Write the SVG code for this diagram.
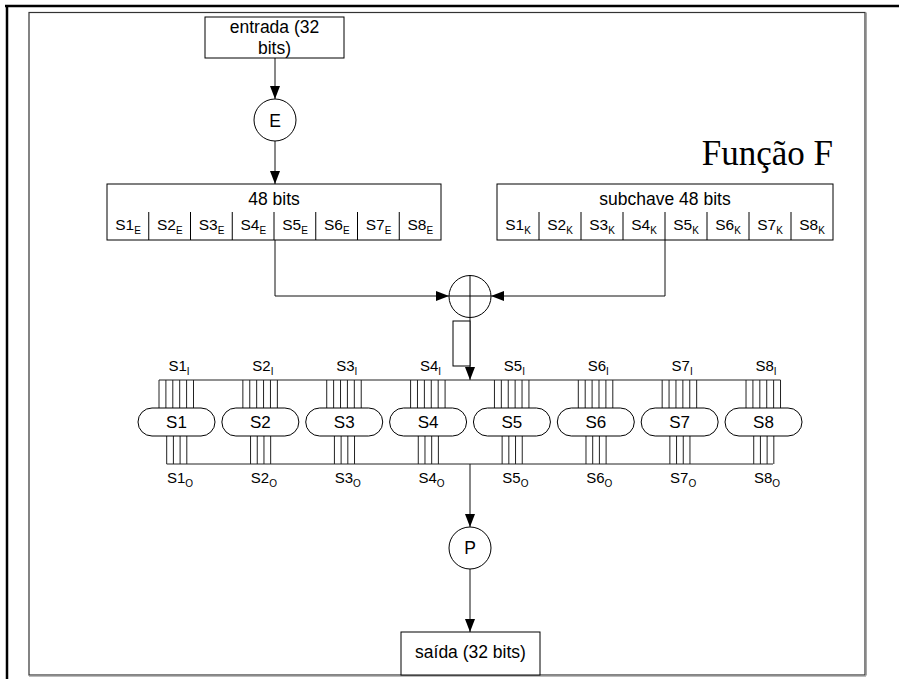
<svg xmlns="http://www.w3.org/2000/svg" width="899" height="679" viewBox="0 0 899 679">
  <defs>
    <marker id="arrow" markerUnits="userSpaceOnUse" markerWidth="13" markerHeight="10" refX="13" refY="5" orient="auto">
      <path d="M0,0 L13,5 L0,10 z" fill="#000"/>
    </marker>
    <style>
      .box { fill: #fff; stroke: #000; stroke-width: 1; }
      .ln { fill: none; stroke: #000; stroke-width: 1; }
      .wire { fill: none; stroke: #222; stroke-width: 1; }
      .conn { fill: none; stroke: #111; stroke-width: 1; }
      .t { font-family: "Liberation Sans", Arial, sans-serif; fill: #000; }
      .big { font-size: 17.5px; text-anchor: middle; }
      .cell { font-size: 15.5px; text-anchor: middle; }
      .sbox { font-size: 17px; text-anchor: middle; }
      .lbl { font-size: 15px; text-anchor: middle; }
      .sub { font-size: 10px; }
      .title { font-family: "Liberation Serif", "Times New Roman", serif; font-size: 35px; text-anchor: end; fill: #000; }
    </style>
  </defs>

  <!-- page frame -->
  <g id="frame">
    <line x1="5" y1="6" x2="899" y2="6" stroke="#000" stroke-width="2.5"/>
    <line x1="7" y1="5" x2="7" y2="679" stroke="#000" stroke-width="2.5"/>
    <rect x="29" y="12.5" width="836" height="662.5" fill="none" stroke="#333" stroke-width="1.2"/>
    <line x1="866" y1="12.5" x2="866" y2="675.5" stroke="#888" stroke-width="1.5"/>
    <line x1="29" y1="676.3" x2="866" y2="676.3" stroke="#aaa" stroke-width="1"/>
  </g>

  <text class="title" x="833" y="165">Função F</text>

  <!-- connectors -->
  <g id="connectors">
    <line class="conn" x1="275" y1="58" x2="275" y2="99" marker-end="url(#arrow)"/>
    <line class="conn" x1="275" y1="141" x2="275" y2="184" marker-end="url(#arrow)"/>
    <polyline class="conn" points="275,240 275,296 449,296" marker-end="url(#arrow)"/>
    <polyline class="conn" points="665,240 665,296 491,296" marker-end="url(#arrow)"/>
    <line class="conn" x1="470" y1="317.5" x2="470" y2="380" marker-end="url(#arrow)"/>
    <line class="conn" x1="470" y1="464" x2="470" y2="527" marker-end="url(#arrow)"/>
    <line class="conn" x1="470" y1="569" x2="470" y2="632" marker-end="url(#arrow)"/>
  </g>

  <!-- input block -->
  <g id="entrada">
    <rect class="box" x="205" y="17" width="139" height="41"/>
    <text class="t big" x="274.5" y="32.5">entrada (32</text>
    <text class="t big" x="274.5" y="53.5">bits)</text>
  </g>

  <!-- expansion -->
  <g id="expansao">
    <circle class="box" cx="275" cy="120" r="21"/>
    <text class="t big" x="275" y="127">E</text>
  </g>

  <!-- expanded half block, 48 bits -->
  <g id="bloco48">
    <rect class="box" x="107" y="184" width="334" height="56"/>
    <path class="ln" d="M148.75,212V240 M190.5,212V240 M232.25,212V240 M274,212V240 M315.75,212V240 M357.5,212V240 M399.25,212V240"/>
    <text class="t big" x="274" y="205">48 bits</text>
    <text class="t cell" x="128" y="230">S1<tspan class="sub" dy="4">E</tspan></text>
    <text class="t cell" x="169.75" y="230">S2<tspan class="sub" dy="4">E</tspan></text>
    <text class="t cell" x="211.5" y="230">S3<tspan class="sub" dy="4">E</tspan></text>
    <text class="t cell" x="253.25" y="230">S4<tspan class="sub" dy="4">E</tspan></text>
    <text class="t cell" x="295" y="230">S5<tspan class="sub" dy="4">E</tspan></text>
    <text class="t cell" x="336.75" y="230">S6<tspan class="sub" dy="4">E</tspan></text>
    <text class="t cell" x="378.5" y="230">S7<tspan class="sub" dy="4">E</tspan></text>
    <text class="t cell" x="420.25" y="230">S8<tspan class="sub" dy="4">E</tspan></text>
  </g>

  <!-- round subkey, 48 bits -->
  <g id="subchave">
    <rect class="box" x="497" y="184" width="336" height="56"/>
    <path class="ln" d="M539,212V240 M581,212V240 M623,212V240 M665,212V240 M707,212V240 M749,212V240 M791,212V240"/>
    <text class="t big" x="665" y="205">subchave 48 bits</text>
    <text class="t cell" x="518" y="230">S1<tspan class="sub" dy="4">K</tspan></text>
    <text class="t cell" x="560" y="230">S2<tspan class="sub" dy="4">K</tspan></text>
    <text class="t cell" x="602" y="230">S3<tspan class="sub" dy="4">K</tspan></text>
    <text class="t cell" x="644" y="230">S4<tspan class="sub" dy="4">K</tspan></text>
    <text class="t cell" x="686" y="230">S5<tspan class="sub" dy="4">K</tspan></text>
    <text class="t cell" x="728" y="230">S6<tspan class="sub" dy="4">K</tspan></text>
    <text class="t cell" x="770" y="230">S7<tspan class="sub" dy="4">K</tspan></text>
    <text class="t cell" x="812" y="230">S8<tspan class="sub" dy="4">K</tspan></text>
  </g>

  <!-- XOR -->
  <g id="xor">
    <circle class="box" cx="470" cy="296.5" r="21"/>
    <line class="ln" x1="449" y1="296" x2="491" y2="296"/>
    <line class="ln" x1="470" y1="275.5" x2="470" y2="317.5"/>
  </g>

  <g id="registro">
    <rect class="box" x="453" y="321" width="17" height="45"/>
  </g>

  <!-- S-box buses -->
  <g id="barramentos">
    <line class="wire" x1="159" y1="380" x2="780.5" y2="380"/>
    <line class="wire" x1="166.7" y1="464" x2="773" y2="464"/>
  </g>

  <!-- substitution boxes: 6 input wires, 4 output wires each -->
  <g id="S1" transform="translate(138,0)">
    <path class="wire" d="M21,380V408 M27.9,380V408 M34.8,380V408 M41.7,380V408 M48.6,380V408 M55.5,380V408 M28.7,436V464 M35.4,436V464 M42.1,436V464 M48.8,436V464"/>
    <rect class="box" x="0" y="408" width="77" height="28" rx="14" ry="14"/>
    <text class="t sbox" x="38.5" y="428">S1</text>
    <text class="t lbl" x="41" y="371">S1<tspan class="sub" dy="4">I</tspan></text>
    <text class="t lbl" x="42" y="483">S1<tspan class="sub" dy="4">O</tspan></text>
  </g>
  <g id="S2" transform="translate(221.86,0)">
    <path class="wire" d="M21,380V408 M27.9,380V408 M34.8,380V408 M41.7,380V408 M48.6,380V408 M55.5,380V408 M28.7,436V464 M35.4,436V464 M42.1,436V464 M48.8,436V464"/>
    <rect class="box" x="0" y="408" width="77" height="28" rx="14" ry="14"/>
    <text class="t sbox" x="38.5" y="428">S2</text>
    <text class="t lbl" x="41" y="371">S2<tspan class="sub" dy="4">I</tspan></text>
    <text class="t lbl" x="42" y="483">S2<tspan class="sub" dy="4">O</tspan></text>
  </g>
  <g id="S3" transform="translate(305.72,0)">
    <path class="wire" d="M21,380V408 M27.9,380V408 M34.8,380V408 M41.7,380V408 M48.6,380V408 M55.5,380V408 M28.7,436V464 M35.4,436V464 M42.1,436V464 M48.8,436V464"/>
    <rect class="box" x="0" y="408" width="77" height="28" rx="14" ry="14"/>
    <text class="t sbox" x="38.5" y="428">S3</text>
    <text class="t lbl" x="41" y="371">S3<tspan class="sub" dy="4">I</tspan></text>
    <text class="t lbl" x="42" y="483">S3<tspan class="sub" dy="4">O</tspan></text>
  </g>
  <g id="S4" transform="translate(389.58,0)">
    <path class="wire" d="M21,380V408 M27.9,380V408 M34.8,380V408 M41.7,380V408 M48.6,380V408 M55.5,380V408 M28.7,436V464 M35.4,436V464 M42.1,436V464 M48.8,436V464"/>
    <rect class="box" x="0" y="408" width="77" height="28" rx="14" ry="14"/>
    <text class="t sbox" x="38.5" y="428">S4</text>
    <text class="t lbl" x="41" y="371">S4<tspan class="sub" dy="4">I</tspan></text>
    <text class="t lbl" x="42" y="483">S4<tspan class="sub" dy="4">O</tspan></text>
  </g>
  <g id="S5" transform="translate(473.44,0)">
    <path class="wire" d="M21,380V408 M27.9,380V408 M34.8,380V408 M41.7,380V408 M48.6,380V408 M55.5,380V408 M28.7,436V464 M35.4,436V464 M42.1,436V464 M48.8,436V464"/>
    <rect class="box" x="0" y="408" width="77" height="28" rx="14" ry="14"/>
    <text class="t sbox" x="38.5" y="428">S5</text>
    <text class="t lbl" x="41" y="371">S5<tspan class="sub" dy="4">I</tspan></text>
    <text class="t lbl" x="42" y="483">S5<tspan class="sub" dy="4">O</tspan></text>
  </g>
  <g id="S6" transform="translate(557.3,0)">
    <path class="wire" d="M21,380V408 M27.9,380V408 M34.8,380V408 M41.7,380V408 M48.6,380V408 M55.5,380V408 M28.7,436V464 M35.4,436V464 M42.1,436V464 M48.8,436V464"/>
    <rect class="box" x="0" y="408" width="77" height="28" rx="14" ry="14"/>
    <text class="t sbox" x="38.5" y="428">S6</text>
    <text class="t lbl" x="41" y="371">S6<tspan class="sub" dy="4">I</tspan></text>
    <text class="t lbl" x="42" y="483">S6<tspan class="sub" dy="4">O</tspan></text>
  </g>
  <g id="S7" transform="translate(641.16,0)">
    <path class="wire" d="M21,380V408 M27.9,380V408 M34.8,380V408 M41.7,380V408 M48.6,380V408 M55.5,380V408 M28.7,436V464 M35.4,436V464 M42.1,436V464 M48.8,436V464"/>
    <rect class="box" x="0" y="408" width="77" height="28" rx="14" ry="14"/>
    <text class="t sbox" x="38.5" y="428">S7</text>
    <text class="t lbl" x="41" y="371">S7<tspan class="sub" dy="4">I</tspan></text>
    <text class="t lbl" x="42" y="483">S7<tspan class="sub" dy="4">O</tspan></text>
  </g>
  <g id="S8" transform="translate(725.02,0)">
    <path class="wire" d="M21,380V408 M27.9,380V408 M34.8,380V408 M41.7,380V408 M48.6,380V408 M55.5,380V408 M28.7,436V464 M35.4,436V464 M42.1,436V464 M48.8,436V464"/>
    <rect class="box" x="0" y="408" width="77" height="28" rx="14" ry="14"/>
    <text class="t sbox" x="38.5" y="428">S8</text>
    <text class="t lbl" x="41" y="371">S8<tspan class="sub" dy="4">I</tspan></text>
    <text class="t lbl" x="42" y="483">S8<tspan class="sub" dy="4">O</tspan></text>
  </g>

  <!-- permutation -->
  <g id="permutacao">
    <circle class="box" cx="470" cy="548" r="21"/>
    <text class="t big" x="470" y="554">P</text>
  </g>

  <!-- output block -->
  <g id="saida">
    <rect class="box" x="401" y="632" width="139" height="43"/>
    <text class="t big" x="470.5" y="658">saída (32 bits)</text>
  </g>
</svg>
